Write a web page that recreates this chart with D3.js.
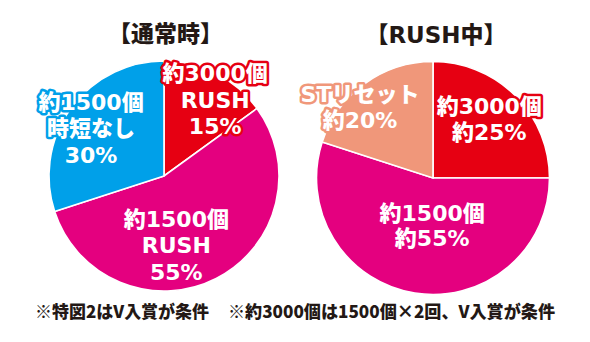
<!DOCTYPE html>
<html><head><meta charset="utf-8">
<script src="https://cdn.jsdelivr.net/npm/d3@7"></script>
<style>
html,body{margin:0;padding:0;background:#fff;}
svg{display:block;}
</style>
</head><body>
<div id="chart"></div>
<script>
// ---- data ----
const chartTitles = ["【通常時】", "【RUSH中】"];
const normalValues = [15, 55, 30];
const normalLabels = [["約3000個", "RUSH", "15%"], ["約1500個", "RUSH", "55%"], ["約1500個", "時短なし", "30%"]];
const rushValues = [25, 55, 20];
const rushLabels = [["約3000個", "約25%"], ["約1500個", "約55%"], ["STリセット", "約20%"]];
const footnotes = ["※特図2はV入賞が条件", "※約3000個は1500個×2回、V入賞が条件"];

// ---- styling / layout ----
const W = 590, H = 342;
const normalColors = ["#e60012", "#e4007f", "#00a0e9"];
const rushColors = ["#e60012", "#e4007f", "#f0977a"];
const pies = [
  { title: chartTitles[0], values: normalValues, labels: normalLabels, colors: normalColors,
    cx: 164, cy: 176, r: 115, titleDx: 1.5, lineH: 26.5,
    // label placement: [angle in degrees clockwise from top, distance from centre]
    place: [[34, 91.5], [170, 71], [303, 87]] },
  { title: chartTitles[1], values: rushValues, labels: rushLabels, colors: rushColors,
    cx: 433, cy: 178, r: 116.5, titleDx: 3, lineH: 25.5,
    place: [[44, 81], [181, 48], [314, 101.5]] }
];
const labelFont = "'DejaVu Sans','Noto Sans CJK JP',sans-serif";

const svg = d3.select("#chart").append("svg").attr("width", W).attr("height", H);

pies.forEach(p => {
  const g = svg.append("g").attr("transform", `translate(${p.cx},${p.cy})`);
  const pie = d3.pie().sort(null).value(d => d)(p.values);
  const arc = d3.arc().innerRadius(0).outerRadius(p.r);
  g.selectAll("path.slice").data(pie).enter().append("path")
    .attr("class", "slice")
    .attr("d", arc)
    .attr("fill", (d, i) => p.colors[i])
    .attr("stroke", "#fff")
    .attr("stroke-width", 1.6)
    .attr("stroke-linejoin", "miter");

  // labels
  pie.forEach((d, i) => {
    const [deg, dist] = p.place[i];
    const a = deg * Math.PI / 180;
    const c = d3.arc().innerRadius(dist).outerRadius(dist).startAngle(a).endAngle(a).centroid();
    const lines = p.labels[i];
    const t = g.append("text")
      .attr("text-anchor", "middle")
      .attr("font-family", labelFont)
      .attr("font-weight", 900)
      .attr("font-size", 22)
      .attr("fill", "#fff")
      .attr("stroke", p.colors[i])
      .attr("stroke-width", 5)
      .attr("stroke-linejoin", "round")
      .attr("paint-order", "stroke");
    lines.forEach((ln, k) => {
      t.append("tspan")
        .attr("x", c[0])
        .attr("y", c[1] + (k - (lines.length - 1) / 2) * p.lineH)
        .attr("dominant-baseline", "central")
        .text(ln);
    });
  });

  // title
  svg.append("text")
    .attr("x", p.cx + p.titleDx)
    .attr("y", p.cy - p.r - 27)
    .attr("text-anchor", "middle")
    .attr("dominant-baseline", "central")
    .attr("font-family", labelFont)
    .attr("font-weight", 900)
    .attr("font-size", 23)
    .attr("fill", "#231815")
    .text(p.title);
});

// footnotes
const fnX = [35, 228], fnLen = [174, 327];
footnotes.forEach((f, i) => {
  svg.append("text")
    .attr("x", fnX[i])
    .attr("y", 310)
    .attr("dominant-baseline", "central")
    .attr("font-family", "'Noto Sans CJK JP',sans-serif")
    .attr("font-weight", 900)
    .attr("font-size", 17.5)
    .attr("fill", "#231815")
    .attr("textLength", fnLen[i])
    .attr("lengthAdjust", "spacingAndGlyphs")
    .text(f);
});
</script>
</body></html>
